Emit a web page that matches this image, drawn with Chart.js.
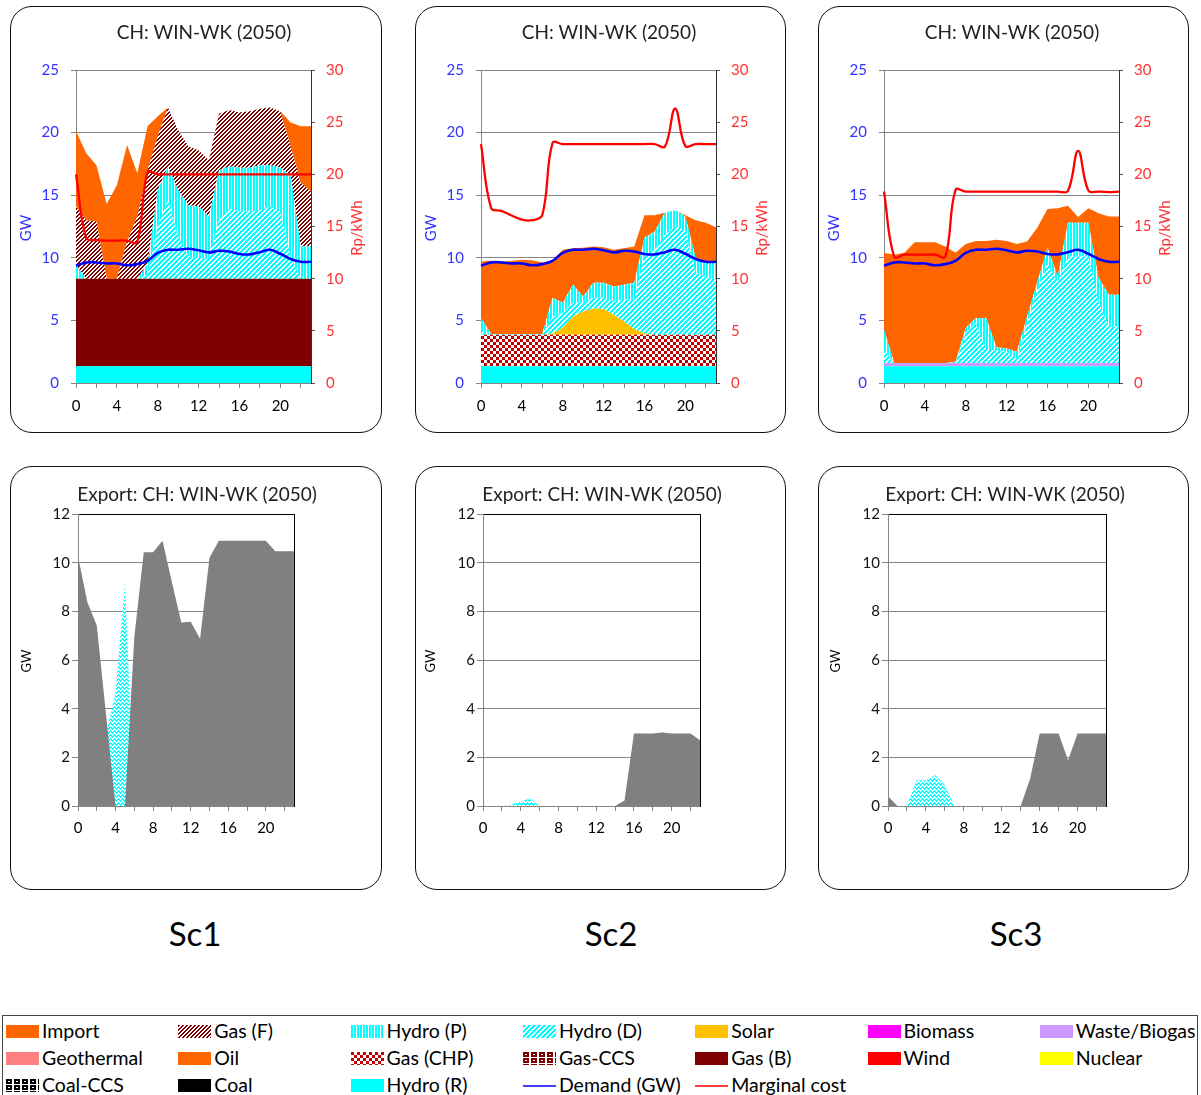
<!DOCTYPE html>
<html>
<head>
<meta charset="utf-8">
<script src="https://cdn.jsdelivr.net/npm/chart.js@4.4.1/dist/chart.umd.min.js"></script>
<style>
  body { margin: 0; background: #fff; font-family: Lato, sans-serif; }
  #page { position: relative; width: 1201px; height: 1095px; overflow: hidden; background: #fff; }
  .panel { position: absolute; border: 1.8px solid #111; border-radius: 22px; box-sizing: border-box; pointer-events: none; }
  .chart { position: absolute; }
  .sc { position: absolute; width: 120px; margin-left: -60px; text-align: center; font-size: 33px; line-height: 33px; color: #000; }
  #legend { position: absolute; left: 2px; top: 1015px; width: 1196px; height: 100px; border: 1px solid #444; box-sizing: border-box; }
  .item { position: absolute; height: 20px; display: flex; align-items: center; font-size: 19.5px; line-height: 20px; color: #000; white-space: nowrap; }
  .item canvas { margin-right: 3px; }
</style>
</head>
<body>
<div id="page">
  <canvas id="top1" class="chart" width="372" height="427" style="left:10px;top:6px"></canvas>
  <canvas id="top2" class="chart" width="371" height="427" style="left:415px;top:6px"></canvas>
  <canvas id="top3" class="chart" width="371" height="427" style="left:818px;top:6px"></canvas>
  <canvas id="bot1" class="chart" width="372" height="424" style="left:10px;top:466px"></canvas>
  <canvas id="bot2" class="chart" width="371" height="424" style="left:415px;top:466px"></canvas>
  <canvas id="bot3" class="chart" width="371" height="424" style="left:818px;top:466px"></canvas>

  <div class="panel" style="left:10px;top:6px;width:372px;height:427px"></div>
  <div class="panel" style="left:415px;top:6px;width:371px;height:427px"></div>
  <div class="panel" style="left:818px;top:6px;width:371px;height:427px"></div>
  <div class="panel" style="left:10px;top:466px;width:372px;height:424px"></div>
  <div class="panel" style="left:415px;top:466px;width:371px;height:424px"></div>
  <div class="panel" style="left:818px;top:466px;width:371px;height:424px"></div>

  <div class="sc" style="left:195px;top:917px">Sc1</div>
  <div class="sc" style="left:611px;top:917px">Sc2</div>
  <div class="sc" style="left:1016px;top:917px">Sc3</div>

  <div id="legend"></div>
</div>

<script>
// Stunden des Tages
const hours = ['0','1','2','3','4','5','6','7','8','9','10','11','12','13','14','15','16','17','18','19','20','21','22','23'];
const gwTicks = [0, 5, 10, 15, 20, 25];
const costTicks = [0, 5, 10, 15, 20, 25, 30];
const exportTicks = [0, 2, 4, 6, 8, 10, 12];

// Nachfrage (GW), in allen Szenarien gleich
const demand = [9.36, 9.63, 9.63, 9.55, 9.55, 9.4, 9.5, 9.76, 10.4, 10.64, 10.64, 10.72, 10.6, 10.43, 10.56, 10.5, 10.3, 10.27, 10.45, 10.64, 10.32, 9.9, 9.68, 9.68];

// Sc1 - Erzeugung (GW, gestapelt)
const sc1HydroR = [1.33, 1.33, 1.33, 1.33, 1.33, 1.33, 1.33, 1.33, 1.33, 1.33, 1.33, 1.33, 1.33, 1.33, 1.33, 1.33, 1.33, 1.33, 1.33, 1.33, 1.33, 1.33, 1.33, 1.33];
const sc1GasB = [7.0, 7.0, 7.0, 7.0, 7.0, 7.0, 7.0, 7.0, 7.0, 7.0, 7.0, 7.0, 7.0, 7.0, 7.0, 7.0, 7.0, 7.0, 7.0, 7.0, 7.0, 7.0, 7.0, 7.0];
const sc1HydroD = [0, 0, 0, 0, 0, 0, 0, 0.3, 4.17, 6.27, 3.37, 1.77, 1.67, 1.57, 4.67, 5.57, 5.37, 5.37, 5.47, 5.77, 5.27, 1.77, 0, 0];
const sc1HydroP = [1.07, 0, 0, 0, 0, 0, 0, 0.87, 2.9, 2.7, 3.7, 4.1, 4.1, 3.4, 4.0, 3.4, 3.5, 3.5, 3.6, 3.3, 3.6, 6.5, 2.57, 2.57];
const sc1GasF = [4.7, 4.67, 4.57, 0, 0, 2.97, 4.97, 7.5, 4.3, 4.7, 4.8, 4.7, 4.5, 4.5, 4.5, 4.5, 4.4, 4.5, 4.5, 4.6, 4.5, 2.3, 5.1, 4.4];
const sc1Import = [6.0, 5.35, 4.5, 5.97, 7.47, 7.7, 3.45, 3.5, 1.6, 0, 0, 0, 0, 0, 0, 0, 0, 0, 0, 0, 0, 1.9, 4.5, 5.2];
const sc1Cost = [20.0, 13.9, 13.7, 13.65, 13.65, 13.65, 13.5, 20.2, 20.0, 20.0, 20.0, 20.0, 20.0, 20.0, 20.0, 20.0, 20.0, 20.0, 20.0, 20.0, 20.0, 20.0, 20.0, 20.0];

// Sc2
const sc2HydroR = [1.33, 1.33, 1.33, 1.33, 1.33, 1.33, 1.33, 1.33, 1.33, 1.33, 1.33, 1.33, 1.33, 1.33, 1.33, 1.33, 1.33, 1.33, 1.33, 1.33, 1.33, 1.33, 1.33, 1.33];
const sc2GasChp = [2.53, 2.53, 2.53, 2.53, 2.53, 2.53, 2.53, 2.53, 2.53, 2.53, 2.53, 2.53, 2.53, 2.53, 2.53, 2.53, 2.53, 2.53, 2.53, 2.53, 2.53, 2.53, 2.53, 2.53];
const sc2Solar = [0, 0, 0, 0, 0, 0, 0, 0.1, 0.55, 1.45, 1.85, 2.1, 2.05, 1.6, 1.05, 0.45, 0.1, 0, 0, 0, 0, 0, 0, 0];
const sc2HydroD = [0.3, 0, 0, 0, 0, 0, 0, 1.34, 1.19, 1.09, 0.69, 0.84, 0.89, 1.04, 1.74, 2.34, 6.14, 6.74, 7.94, 8.64, 8.34, 4.94, 4.64, 4.39];
const sc2HydroP = [1.04, 0.05, 0.05, 0.05, 0.05, 0.05, 0.05, 1.5, 0.8, 1.45, 0.5, 1.2, 1.2, 1.2, 1.2, 1.35, 1.5, 1.5, 1.8, 1.3, 1.1, 1.2, 1.1, 1.35];
const sc2Import = [4.5, 5.85, 5.79, 5.84, 5.93, 5.89, 5.72, 2.96, 4.24, 2.92, 3.9, 2.9, 2.85, 2.94, 2.92, 2.9, 1.8, 1.3, 0, 0, 0.1, 3.0, 3.2, 2.85];
const sc2Cost = [22.9, 16.75, 16.5, 16.05, 15.65, 15.6, 16.1, 23.0, 22.9, 22.9, 22.9, 22.9, 22.9, 22.9, 22.9, 22.9, 22.9, 22.9, 22.65, 26.3, 22.7, 22.9, 22.9, 22.9];

// Sc3
const sc3HydroR = [1.33, 1.33, 1.33, 1.33, 1.33, 1.33, 1.33, 1.33, 1.33, 1.33, 1.33, 1.33, 1.33, 1.33, 1.33, 1.33, 1.33, 1.33, 1.33, 1.33, 1.33, 1.33, 1.33, 1.33];
const sc3Waste = [0.27, 0.27, 0.27, 0.27, 0.27, 0.27, 0.27, 0.27, 0.27, 0.27, 0.27, 0.27, 0.27, 0.27, 0.27, 0.27, 0.27, 0.27, 0.27, 0.27, 0.27, 0.27, 0.27, 0.27];
const sc3HydroD = [1.05, 0, 0, 0, 0, 0, 0, 0.05, 2.4, 3.2, 1.05, 1.0, 0.9, 0.2, 3.2, 5.8, 8.0, 6.4, 8.5, 8.5, 8.5, 4.8, 2.9, 2.9];
const sc3HydroP = [1.6, 0, 0, 0, 0, 0, 0, 0.05, 0.4, 0.4, 2.55, 0.25, 0.25, 0.7, 0.5, 0.65, 1.2, 0.5, 2.7, 2.7, 2.7, 2.0, 2.55, 2.55];
const sc3Import = [6.15, 8.65, 8.8, 9.65, 9.65, 9.65, 9.3, 8.7, 6.7, 6.15, 6.15, 8.6, 8.6, 8.6, 6.0, 4.35, 3.1, 5.45, 1.35, 0.45, 1.15, 5.15, 6.25, 6.25];
const sc3Cost = [18.35, 12.1, 12.3, 12.3, 12.3, 12.3, 12.1, 18.5, 18.35, 18.35, 18.35, 18.35, 18.35, 18.35, 18.35, 18.35, 18.35, 18.35, 18.4, 22.25, 18.45, 18.35, 18.3, 18.35];

// Export (GW)
const sc1Export = [10.26, 8.37, 7.42, 3.7, 0, 0, 6.96, 10.43, 10.43, 10.9, 9.2, 7.54, 7.57, 6.87, 10.2, 10.9, 10.9, 10.9, 10.9, 10.9, 10.9, 10.47, 10.47, 10.47];
const sc1ExportHydro = [0, 0, 0, 3.0, 4.6, 9.17, 0, 0, 0, 0, 0, 0, 0, 0, 0, 0, 0, 0, 0, 0, 0, 0, 0, 0];
const sc2Export = [0, 0, 0, 0, 0, 0, 0, 0, 0, 0, 0, 0, 0, 0, 0, 0.23, 2.98, 2.98, 2.98, 3.02, 2.98, 2.98, 2.98, 2.7];
const sc2ExportHydro = [0, 0, 0, 0.05, 0.2, 0.3, 0, 0, 0, 0, 0, 0, 0, 0, 0, 0, 0, 0, 0, 0, 0, 0, 0, 0];
const sc3Export = [0.4, 0, 0, 0, 0, 0, 0, 0, 0, 0, 0, 0, 0, 0, 0, 1.13, 2.98, 2.98, 2.98, 1.88, 2.98, 2.98, 2.98, 2.98];
const sc3ExportHydro = [0, 0, 0, 1.06, 1.06, 1.26, 0.85, 0, 0, 0, 0, 0, 0, 0, 0, 0, 0, 0, 0, 0, 0, 0, 0, 0];

const legendRows = [
  ['Import', 'Gas (F)', 'Hydro (P)', 'Hydro (D)', 'Solar', 'Biomass', 'Waste/Biogas'],
  ['Geothermal', 'Oil', 'Gas (CHP)', 'Gas-CCS', 'Gas (B)', 'Wind', 'Nuclear'],
  ['Coal-CCS', 'Coal', 'Hydro (R)', 'Demand (GW)', 'Marginal cost']
];

const GRID = '#868686';
const BLUE = '#3333ff';
const RED = '#ff3333';

// Muster wie in Excel (Schraffuren)
function pixPattern(w, h, fg, bg, test) {
  const c = document.createElement('canvas');
  c.width = w; c.height = h;
  const g = c.getContext('2d');
  g.fillStyle = bg; g.fillRect(0, 0, w, h);
  g.fillStyle = fg;
  for (let y = 0; y < h; y++) {
    for (let x = 0; x < w; x++) {
      if (test(x, y)) g.fillRect(x, y, 1, 1);
    }
  }
  return g.createPattern(c, 'repeat');
}

const ringTest = (x, y) => x < 6 && y < 5 && !(x > 1 && x < 4 && y > 1 && y < 3);

const fills = {
  'Import': '#ff6600',
  'Oil': '#ff6600',
  'Gas (F)': pixPattern(4, 4, '#800000', '#fff', (x, y) => (x + y) % 4 < 2),
  'Hydro (P)': pixPattern(3, 1, '#00ffff', '#fff', (x, y) => x % 3 !== 2),
  'Hydro (D)': pixPattern(5, 5, '#00ffff', '#fff', (x, y) => (x + y) % 5 < 3),
  'Solar': '#ffc000',
  'Biomass': '#ff00ff',
  'Waste/Biogas': '#cc99ff',
  'Geothermal': '#ff8080',
  'Gas (CHP)': pixPattern(6, 6, '#c00000', '#fff', (x, y) => (Math.floor(x / 3) + Math.floor(y / 3)) % 2 === 0),
  'Gas-CCS': pixPattern(8, 6, '#800000', '#fff', ringTest),
  'Gas (B)': '#800000',
  'Wind': '#ff0000',
  'Nuclear': '#ffff00',
  'Coal-CCS': pixPattern(8, 6, '#000', '#fff', ringTest),
  'Coal': '#000',
  'Hydro (R)': '#00ffff',
  'Export': '#808080',
  'Zigzag': pixPattern(4, 4, '#00ffff', '#fff', (x, y) => y === [0, 1, 2, 1][x] || y === [1, 2, 3, 2][x])
};

// Texte direkt auf die Leinwand zeichnen
function textPlugin(items) {
  return {
    id: 'panelText',
    afterDraw(chart) {
      const ctx = chart.ctx;
      items.forEach(t => {
        ctx.save();
        ctx.font = t.font;
        ctx.fillStyle = t.color;
        ctx.textAlign = 'center';
        ctx.textBaseline = t.rot ? 'middle' : 'alphabetic';
        ctx.translate(t.x, t.y);
        if (t.rot) ctx.rotate(-Math.PI / 2);
        ctx.fillText(t.text, 0, 0);
        ctx.restore();
      });
    }
  };
}

function xScale(height, pad) {
  return {
    type: 'category',
    offset: false,
    grid: { drawOnChartArea: false, tickLength: 5, tickColor: c => (c.index % 2 === 0 ? GRID : 'rgba(0,0,0,0)') },
    border: { color: GRID },
    ticks: { autoSkip: false, maxRotation: 0, color: '#000', font: { size: 15 }, padding: pad,
             callback: (v, i) => (i % 4 === 0 ? hours[i] : '') },
    afterFit: s => { s.height = height; }
  };
}

function topChart(id, areas, cost, width) {
  const datasets = [
    { label: 'Demand (GW)', data: demand, borderColor: '#0000ff', borderWidth: 2.6, pointRadius: 0,
      tension: 0.4, fill: false, yAxisID: 'y', stack: 'demand' },
    { label: 'Marginal cost', data: cost, borderColor: '#ff0000', borderWidth: 2.3, pointRadius: 0,
      tension: 0.4, fill: false, yAxisID: 'y2' }
  ];
  areas.forEach((a, i) => {
    datasets.push({
      label: a[0], data: a[1], backgroundColor: fills[a[0]], borderColor: 'rgba(0,0,0,0)', borderWidth: 0,
      pointRadius: 0, fill: i === 0 ? 'origin' : '-1', yAxisID: 'y', stack: 'gen'
    });
  });
  new Chart(document.getElementById(id), {
    type: 'line',
    data: { labels: hours, datasets: datasets },
    options: {
      responsive: false,
      animation: false,
      layout: { padding: { top: 64, left: 0, right: 0, bottom: 0 } },
      plugins: { legend: { display: false }, tooltip: { enabled: false } },
      scales: {
        x: xScale(50, 9),
        y: {
          stacked: true, min: 0, max: 25,
          afterBuildTicks: s => { s.ticks = gwTicks.map(v => ({ value: v })); },
          ticks: { color: BLUE, font: { size: 15 }, padding: 12 },
          grid: { color: GRID, tickLength: 5, tickColor: GRID },
          border: { color: GRID },
          afterFit: s => { s.width = 66; }
        },
        y2: {
          position: 'right', min: 0, max: 30,
          afterBuildTicks: s => { s.ticks = costTicks.map(v => ({ value: v })); },
          ticks: { color: RED, font: { size: 15 }, padding: 11 },
          grid: { drawOnChartArea: false, tickLength: 4, tickColor: '#555' },
          border: { color: '#333' },
          afterFit: s => { s.width = width - 301; }
        }
      }
    },
    plugins: [textPlugin([
      { text: 'CH: WIN-WK (2050)', x: 194, y: 33, font: '19px Lato', color: '#222' },
      { text: 'GW', x: 16, y: 222, rot: true, font: '15px Lato', color: BLUE },
      { text: 'Rp/kWh', x: 347, y: 222, rot: true, font: '15px Lato', color: RED }
    ])]
  });
}

function exportChart(id, exp, hydro, left, right, width, gwX) {
  new Chart(document.getElementById(id), {
    type: 'line',
    data: {
      labels: hours,
      datasets: [
        { label: 'Export', data: exp, backgroundColor: fills['Export'], borderColor: 'rgba(0,0,0,0)', borderWidth: 0,
          pointRadius: 0, fill: 'origin' },
        { label: 'Hydro', data: hydro, backgroundColor: fills['Zigzag'], borderColor: 'rgba(0,0,0,0)', borderWidth: 0,
          pointRadius: 0, fill: 'origin' }
      ]
    },
    options: {
      responsive: false,
      animation: false,
      layout: { padding: { top: 48, left: 0, right: 0, bottom: 0 } },
      plugins: { legend: { display: false }, tooltip: { enabled: false } },
      scales: {
        x: xScale(84, 8),
        y: {
          min: 0, max: 12,
          afterBuildTicks: s => { s.ticks = exportTicks.map(v => ({ value: v })); },
          ticks: { color: '#111', font: { size: 15 }, padding: 2 },
          grid: { color: c => (c.tick && c.tick.value === 12 ? '#000' : GRID), tickLength: 6, tickColor: GRID },
          border: { color: GRID },
          afterFit: s => { s.width = left; }
        },
        yR: {
          position: 'right', min: 0, max: 12,
          ticks: { display: false },
          grid: { drawOnChartArea: false, drawTicks: false },
          border: { color: '#000' },
          afterFit: s => { s.width = width - right; }
        }
      }
    },
    plugins: [textPlugin([
      { text: 'Export: CH: WIN-WK (2050)', x: 187, y: 35, font: '19px Lato', color: '#222' },
      { text: 'GW', x: gwX, y: 195, rot: true, font: '13px Lato', color: '#000' }
    ])]
  });
}

function buildLegend() {
  const box = document.getElementById('legend');
  const rowY = [1030, 1057, 1084];
  legendRows.forEach((row, r) => {
    row.forEach((name, c) => {
      const item = document.createElement('div');
      item.className = 'item';
      item.style.left = (5 + c * 172.3 - 2) + 'px';
      item.style.top = (rowY[r] - 10 - 1015) + 'px';
      const sw = document.createElement('canvas');
      sw.width = 33; sw.height = 13;
      const g = sw.getContext('2d');
      if (name === 'Demand (GW)' || name === 'Marginal cost') {
        g.strokeStyle = name === 'Demand (GW)' ? '#0000ff' : '#ff0000';
        g.lineWidth = 1.3;
        g.beginPath(); g.moveTo(0, 7); g.lineTo(33, 7); g.stroke();
      } else {
        g.fillStyle = fills[name];
        g.fillRect(0, 0, 33, 13);
      }
      item.appendChild(sw);
      const span = document.createElement('span');
      span.textContent = name;
      item.appendChild(span);
      box.appendChild(item);
    });
  });
}

function build() {
  Chart.defaults.font.family = 'Lato';
  topChart('top1', [
    ['Hydro (R)', sc1HydroR], ['Gas (B)', sc1GasB], ['Hydro (D)', sc1HydroD],
    ['Hydro (P)', sc1HydroP], ['Gas (F)', sc1GasF], ['Import', sc1Import]
  ], sc1Cost, 372);
  topChart('top2', [
    ['Hydro (R)', sc2HydroR], ['Gas (CHP)', sc2GasChp], ['Solar', sc2Solar], ['Hydro (D)', sc2HydroD],
    ['Hydro (P)', sc2HydroP], ['Import', sc2Import]
  ], sc2Cost, 371);
  topChart('top3', [
    ['Hydro (R)', sc3HydroR], ['Waste/Biogas', sc3Waste], ['Hydro (D)', sc3HydroD],
    ['Hydro (P)', sc3HydroP], ['Import', sc3Import]
  ], sc3Cost, 371);
  exportChart('bot1', sc1Export, sc1ExportHydro, 68, 284, 372, 17);
  exportChart('bot2', sc2Export, sc2ExportHydro, 68, 285, 371, 16);
  exportChart('bot3', sc3Export, sc3ExportHydro, 70, 288, 371, 18);
  buildLegend();
}

if (document.fonts && document.fonts.load) {
  Promise.all([document.fonts.load('15px Lato'), document.fonts.load('19px Lato')]).then(build, build);
} else {
  build();
}
</script>
</body>
</html>
